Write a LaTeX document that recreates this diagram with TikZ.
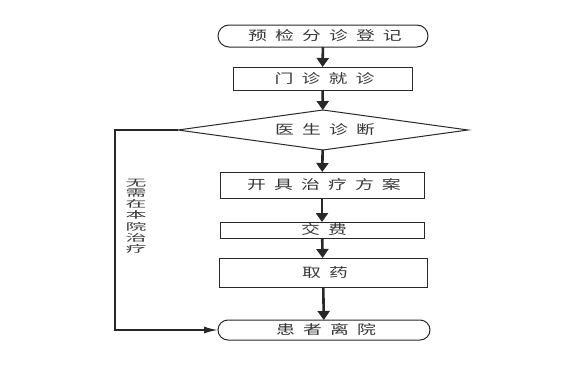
\documentclass[tikz,border=0pt]{standalone}
\usepackage{fontspec}
\usepackage{graphicx}
\newfontfamily\cjk[LetterSpace=43]{Noto Sans CJK SC}
\newfontfamily\cjkv{Noto Sans CJK SC}
\newcommand\wtxt[1]{\scalebox{1.45}[1]{\hspace{2.8pt}#1}}
\usetikzlibrary{shapes.geometric,shapes.misc,arrows.meta}
\definecolor{fcline}{RGB}{40,40,40}
\definecolor{fctext}{RGB}{55,55,55}

\begin{document}
\begin{tikzpicture}[x=1pt,y=-1pt,
  every node/.style={inner sep=0pt,outer sep=0pt,text=fctext,font=\cjk\fontsize{13}{13}\selectfont},
  term/.style={draw=fcline,line width=1pt,rounded rectangle,minimum height=22pt},
  proc/.style={draw=fcline,line width=1pt,rectangle},
  chk/.style={draw=fcline,line width=1pt,diamond,aspect=7.25},
  flow/.style={draw=fcline,line width=2.6pt,-{Triangle[length=9pt,width=12pt]}},
  back/.style={draw=fcline,line width=1.6pt,-{Latex[length=14pt,width=7pt]}}]
  \useasboundingbox (0,0) rectangle (561,364);
  \node[term,minimum width=210pt] (reg) at (323,36) {\wtxt{预检分诊登记}};
  \node[proc,minimum width=179pt,minimum height=23pt] (clinic) at (322.5,78.5) {\wtxt{门诊就诊}};
  \node[chk,minimum width=290pt,minimum height=40pt] (diag) at (323,130) {};
  \node at (323,130) {\wtxt{医生诊断}};
  \node[proc,minimum width=204pt,minimum height=26pt] (plan) at (322,185) {\wtxt{开具治疗方案}};
  \node[proc,minimum width=204pt,minimum height=16pt] (pay) at (322,230) {\wtxt{交费}};
  \node[proc,minimum width=208pt,minimum height=29pt] (drug) at (323,272.5) {\wtxt{取药}};
  \node[term,minimum width=212pt,minimum height=20pt] (leave) at (324,330) {\wtxt{患者离院}};
  \coordinate (up) at (115,130);
  \coordinate (down) at (115,330);
  % main flow
  \draw[flow] (reg) -- (clinic);
  \draw[flow] (clinic) -- (diag);
  \draw[flow] (diag) -- (plan);
  \draw[flow] (plan) -- (pay);
  \draw[flow] (pay) -- (drug);
  \draw[flow] (drug) -- (leave);
  % no treatment needed here
  \draw[back] (diag.west) -- (up) -- (down) -- (leave.west);
  \node[font=\cjkv\fontsize{9.5}{10.3}\selectfont] (note) at (136,217)
    {\scalebox{2.2}[1]{\begin{tabular}{@{}c@{}}无\\需\\在\\本\\院\\治\\疗\end{tabular}}};
\end{tikzpicture}
\end{document}
